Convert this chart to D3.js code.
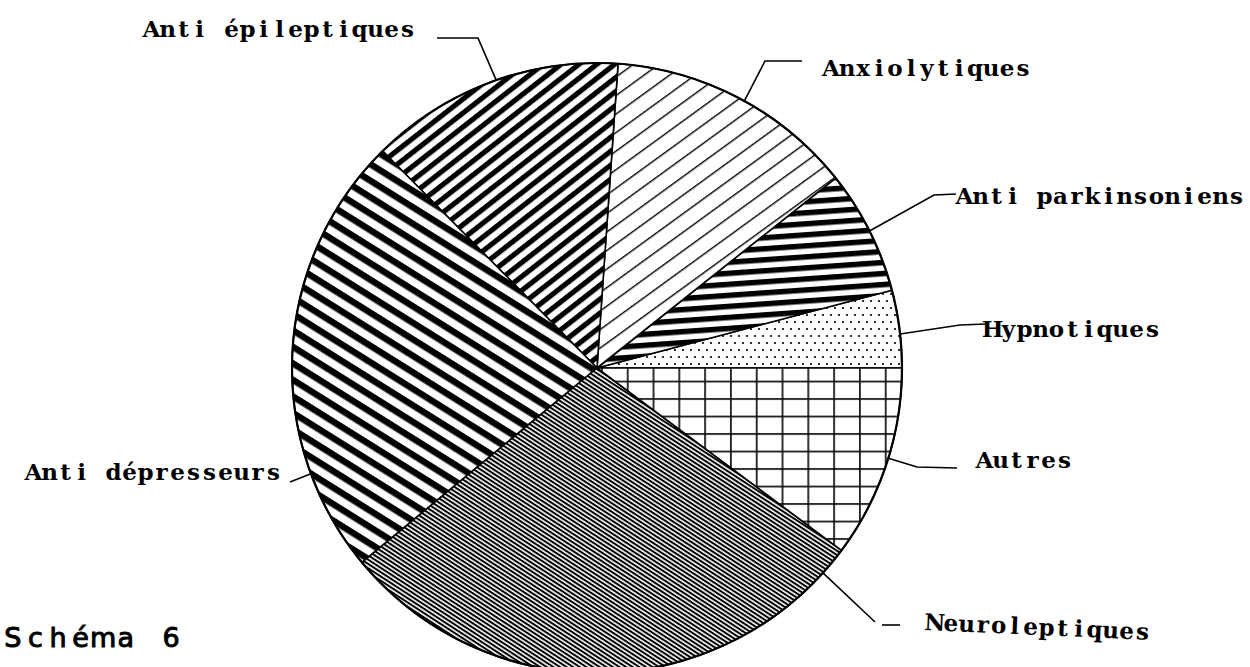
<!DOCTYPE html>
<html>
<head>
<meta charset="utf-8">
<script src="https://cdn.jsdelivr.net/npm/d3@7"></script>
<style>
  html, body { margin: 0; padding: 0; background: #fff; }
  svg { display: block; }
</style>
</head>
<body>
<svg id="chart"></svg>
<script>
// Schéma 6 — pie of prescriptions by therapeutic class, hatched like the
// original plotter output. Slices run counter-clockwise from 3 o'clock.

const CATEGORIES = [
  "Hypnotiques",
  "Anti parkinsoniens",
  "Anxiolytiques",
  "Anti épileptiques",
  "Anti dépresseurs",
  "Neuroleptiques",
  "Autres",
];
const SHARES = [4.1, 6.6, 13.2, 13.5, 23.6, 28.8, 10.2]; // % of total

const TITLE = "Schéma 6";

const width = 1250;
const height = 667;
const cx = 597, cy = 368, radius = 305;

// --- Label layout (page coords) ---
// x = left of first character cell, y = baseline, leader = polyline from the
// text towards the disc, anchor = angle (deg, clockwise from north) where the
// leader meets the rim.
const LABEL_LAYOUT = [
  { name: "Anti épileptiques", x: 143.5, y: 37, leader: [[437, 38], [478, 38]], anchor: 340.7 },
  { name: "Anxiolytiques", x: 823, y: 75.5, leader: [[802, 61], [765, 61]], anchor: 28.9 },
  { name: "Anti parkinsoniens", x: 956.5, y: 204, leader: [[956, 194], [934, 195]], anchor: 63.3 },
  { name: "Hypnotiques", x: 984.5, y: 337, leader: [[986, 324], [960, 325]], anchor: 83.6 },
  { name: "Autres", x: 976.5, y: 468, leader: [[957, 468], [917, 467]], anchor: 107.2 },
  { name: "Neuroleptiques", x: 926.5, y: 630, rotate: 2.5, dash: [[882, 625], [900, 625]],
    leader: [[875, 622]], anchor: 132.2 },
  { name: "Anti dépresseurs", x: 25.5, y: 480, leader: [[290, 482]], anchor: 249.7 },
];
const CELL = 16; // typewriter pitch

const svg = d3.select("#chart")
  .attr("width", width)
  .attr("height", height)
  .attr("viewBox", `0 0 ${width} ${height}`);

svg.append("rect").attr("width", width).attr("height", height).attr("fill", "#fff");

const defs = svg.append("defs");

// --- Hatch patterns ---
function stripes(id, angle, period, ink) {
  const p = defs.append("pattern")
    .attr("id", id)
    .attr("patternUnits", "userSpaceOnUse")
    .attr("width", 20).attr("height", period)
    .attr("patternTransform", `rotate(${angle})`);
  p.append("rect").attr("width", 20).attr("height", period).attr("fill", "#fff");
  p.append("rect").attr("width", 20).attr("height", ink).attr("fill", "#000");
}

stripes("p-epi", -38, 11, 5.2);
stripes("p-anx", -36, 15, 1.4);
stripes("p-park", -4, 11, 5.5);
stripes("p-dep", 32, 14, 6.5);
stripes("p-neuro", 33, 3.6, 2.0);

const dots = defs.append("pattern")
  .attr("id", "p-hyp")
  .attr("patternUnits", "userSpaceOnUse")
  .attr("width", 8).attr("height", 14);
dots.append("rect").attr("width", 8).attr("height", 14).attr("fill", "#fff");
dots.append("circle").attr("cx", 2).attr("cy", 3).attr("r", 1.1).attr("fill", "#000");
dots.append("circle").attr("cx", 6).attr("cy", 10).attr("r", 1.1).attr("fill", "#000");

// square-ish grid; offsets line the rules up with the scan
const grid = defs.append("pattern")
  .attr("id", "p-autres")
  .attr("patternUnits", "userSpaceOnUse")
  .attr("width", 25.8).attr("height", 17.5);
grid.append("rect").attr("width", 25.8).attr("height", 17.5).attr("fill", "#fff");
grid.append("rect").attr("x", 4.1).attr("width", 1.6).attr("height", 17.5).attr("fill", "#000");
grid.append("rect").attr("y", 12.7).attr("width", 25.8).attr("height", 1.6).attr("fill", "#000");

const fillScale = d3.scaleOrdinal()
  .domain(CATEGORIES)
  .range(["p-hyp", "p-park", "p-anx", "p-epi", "p-dep", "p-neuro", "p-autres"]);

// --- Pie ---
const pie = d3.pie()
  .sort(null)
  .value((d, i) => SHARES[i])
  .startAngle(Math.PI / 2)
  .endAngle(Math.PI / 2 - 2 * Math.PI);

const arc = d3.arc().innerRadius(0).outerRadius(radius);

const g = svg.append("g").attr("transform", `translate(${cx},${cy})`);

g.selectAll("path.slice")
  .data(pie(CATEGORIES))
  .join("path")
  .attr("class", "slice")
  .attr("d", arc)
  .attr("fill", d => `url(#${fillScale(d.data)})`)
  .attr("stroke", "#000")
  .attr("stroke-width", 1.6)
  .attr("stroke-linejoin", "round");

g.append("circle")
  .attr("r", radius)
  .attr("fill", "none")
  .attr("stroke", "#000")
  .attr("stroke-width", 2.2);

// --- Labels & leaders ---
const line = d3.line();
const labelLayer = svg.append("g");

LABEL_LAYOUT.forEach(l => {
  const rim = d3.pointRadial(l.anchor * Math.PI / 180, radius);
  const pts = [...l.leader, [cx + rim[0], cy + rim[1]]];
  labelLayer.append("path")
    .attr("d", line(pts))
    .attr("fill", "none")
    .attr("stroke", "#000")
    .attr("stroke-width", 1.6);
  if (l.dash) {
    labelLayer.append("path")
      .attr("d", line(l.dash))
      .attr("stroke", "#000")
      .attr("stroke-width", 1.6);
  }
  // one x per character so the proportional face sits on a fixed pitch
  const chars = Array.from(l.name);
  const t = labelLayer.append("text")
    .attr("x", chars.map((c, i) => (l.x + CELL / 2 + i * CELL).toFixed(1)).join(" "))
    .attr("y", l.y)
    .attr("text-anchor", "middle")
    .attr("font-family", "'DejaVu Serif', serif")
    .attr("font-weight", "bold")
    .attr("font-size", 23)
    .attr("fill", "#000")
    .text(l.name);
  if (l.rotate) t.attr("transform", `rotate(${l.rotate},${l.x},${l.y})`);
});

// --- Caption ---
const titleChars = Array.from(TITLE);
svg.append("text")
  .attr("x", titleChars.map((c, i) => (1.5 + 11.3 + i * 22.6).toFixed(1)).join(" "))
  .attr("y", 646.5)
  .attr("text-anchor", "middle")
  .attr("font-family", "'DejaVu Sans', sans-serif")
  .attr("font-size", 27)
  .attr("fill", "#000")
  .attr("stroke", "#000")
  .attr("stroke-width", 1)
  .text(TITLE);
</script>
</body>
</html>
